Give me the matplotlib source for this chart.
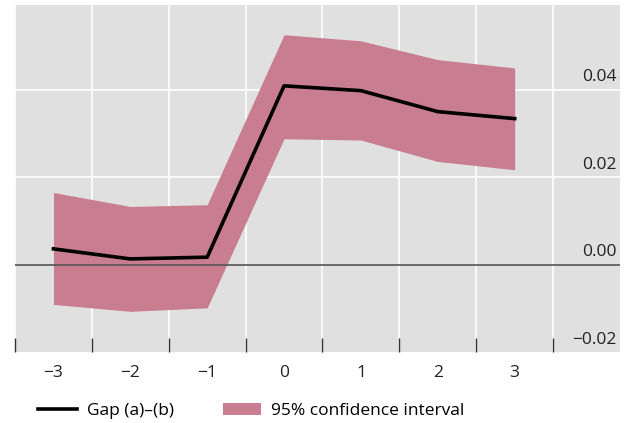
import matplotlib.pyplot as plt
from matplotlib.patches import Patch
from matplotlib.lines import Line2D

plt.rcParams['font.family'] = ['Open Sans', 'DejaVu Sans']

periods = [-3, -2, -1, 0, 1, 2, 3]
gap = [0.0036, 0.0013, 0.0017, 0.0409, 0.0398, 0.0350, 0.0334]
ci_upper = [0.0165, 0.0133, 0.0137, 0.0526, 0.0512, 0.0469, 0.0450]
ci_lower = [-0.0091, -0.0107, -0.0099, 0.0288, 0.0285, 0.0236, 0.0217]
ytick_vals = [0.04, 0.02, 0.00, -0.02]
ytick_text = ["0.04", "0.02", "0.00", "\u22120.02"]
xtick_text = ["\u22123", "\u22122", "\u22121", "0", "1", "2", "3"]

bg = "#e0e0e0"
band = "#c87d90"
txt = "#222222"

fig = plt.figure(figsize=(6.35, 4.23), dpi=100)
ax = fig.add_axes([15 / 635, 1 - 352 / 423, 605 / 635, 347 / 423])
ax.set_facecolor(bg)

ax.set_xlim(-3.5, 4.37)
ax.set_ylim(-0.02, 0.0594)

# grid: white verticals between periods, white horizontals at 0.02 steps
for x in [p + 0.5 for p in [-4] + periods]:
    ax.axvline(x, color="white", lw=1.2, zorder=1)
for y in [0.02, 0.04]:
    ax.axhline(y, color="white", lw=1.2, zorder=1)

ax.fill_between(periods, ci_lower, ci_upper, color=band, lw=0, zorder=2)
ax.axhline(0, color="#555555", lw=1.2, zorder=3)
ax.plot(periods, gap, color="black", lw=2.6, zorder=4)

# y labels sit inside the plot, on the right, just above their line
for v, t in zip(ytick_vals, ytick_text):
    ax.text(0.995, v + 0.0010, t, transform=ax.get_yaxis_transform(),
            ha="right", va="bottom", fontsize=12.5, color=txt)

ax.set_yticks([])
ax.set_xticks(periods)
ax.set_xticklabels(xtick_text, fontsize=12.5, color=txt)
ax.tick_params(axis="x", which="major", length=0, pad=9)
ax.set_xticks([p + 0.5 for p in [-4] + periods], minor=True)
ax.tick_params(axis="x", which="minor", direction="in", length=10,
               width=1, color="#333333")
for s in ax.spines.values():
    s.set_visible(False)

handles = [Line2D([0], [0], color="black", lw=2.6),
           Patch(facecolor=band, edgecolor="none")]
fig.legend(handles, ["Gap (a)\u2013(b)", "95% confidence interval"],
           loc="center left", bbox_to_anchor=(0.036, 0.028), ncol=2,
           frameon=False, fontsize=12.5, handlelength=2.2, columnspacing=2.8,
           handletextpad=0.6)

fig.savefig("out.png", dpi=100)
